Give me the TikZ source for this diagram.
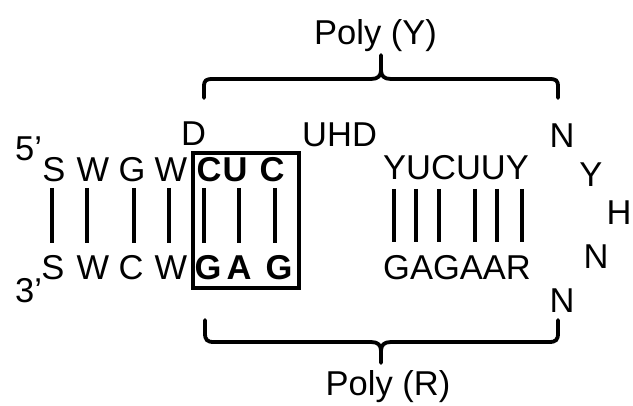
\documentclass[tikz,border=0pt]{standalone}
\usepackage{fontspec}
\setmainfont{Liberation Sans}
\begin{document}
\begin{tikzpicture}[x=1pt,y=-1pt,
  lt/.style={anchor=base,inner sep=0pt,font=\fontsize{34.5}{40}\selectfont},
  ltb/.style={lt,font=\fontsize{34.5}{40}\selectfont\bfseries},
  bar/.style={line width=4pt},
  brace/.style={line width=3.8pt,line cap=round,line join=round},
  boxst/.style={draw,line width=3.6pt,inner sep=0pt,minimum width=106pt,minimum height=135pt}]
\useasboundingbox (0,0) rectangle (633,406);
% top labels
\node[lt,anchor=base west] (p5) at (15,161) {5’};
\node[lt,anchor=base west] (p3) at (15,303) {3’};
\node[lt,anchor=base west] (dl) at (181,146) {D};
\node[lt,anchor=base west] (uhd) at (302,147) {UHD};
% top strand
\node[lt] (t1) at (54,182) {S};
\node[lt] (t2) at (93,182) {W};
\node[lt] (t3) at (132,182) {G};
\node[lt] (t4) at (171,182) {W};
\node[ltb] (t5) at (209,182) {C};
\node[ltb] (t6) at (235,182) {U};
\node[ltb] (t7) at (272,182) {C};
% bottom strand
\node[lt] (b1) at (53,280) {S};
\node[lt] (b2) at (93,280) {W};
\node[lt] (b3) at (131,280) {C};
\node[lt] (b4) at (171,280) {W};
\node[ltb] (b5) at (208,280) {G};
\node[ltb] (b6) at (239,280) {A};
\node[ltb] (b7) at (279,280) {G};
% box
\node[boxst] (box) at (246,220.5) {};
% bars left
\foreach \i/\x in {1/52,2/87,3/134,4/169,5/204,6/239,7/275}{
  \coordinate (u\i) at (\x,188);
  \coordinate (d\i) at (\x,243);
  \draw[bar] (u\i) -- (d\i);
}
% right stem
\node[lt,anchor=base west] (ys) at (383,180) {YUCUUY};
\node[lt,anchor=base west] (rs) at (383,280) {GAGAAR};
\foreach \i/\x in {1/394,2/416,3/439,4/475,5/497,6/522}{
  \coordinate (ru\i) at (\x,189);
  \coordinate (rd\i) at (\x,242);
  \draw[bar] (ru\i) -- (rd\i);
}
% loop
\node[lt] (n1) at (562,148) {N};
\node[lt] (y1) at (591,187) {Y};
\node[lt] (h1) at (619,225) {H};
\node[lt] (n2) at (596,269) {N};
\node[lt] (n3) at (562,313) {N};
% top brace
\coordinate (tbl) at (204,98);
\coordinate (tbr) at (558,98);
\coordinate (tbt) at (381,55);
\draw[brace] (tbl) -- (204,87) .. controls (204,80) and (206,79) .. (213,79)
  -- (371,79) .. controls (378,79) and (381,76) .. (381,70) -- (tbt);
\draw[brace] (tbr) -- (558,87) .. controls (558,80) and (556,79) .. (549,79)
  -- (391,79) .. controls (384,79) and (381,76) .. (381,70);
\node[lt] (polyy) at (375.5,45) {Poly (Y)};
% bottom brace
\coordinate (bbl) at (205,320);
\coordinate (bbr) at (558,320);
\coordinate (bbt) at (381,363);
\draw[brace] (bbl) -- (205,333) .. controls (205,340) and (207,342) .. (214,342)
  -- (371,342) .. controls (378,342) and (381,345) .. (381,351) -- (bbt);
\draw[brace] (bbr) -- (558,333) .. controls (558,340) and (556,342) .. (549,342)
  -- (391,342) .. controls (384,342) and (381,345) .. (381,351);
\node[lt] (polyr) at (388,396) {Poly (R)};
\end{tikzpicture}
\end{document}
